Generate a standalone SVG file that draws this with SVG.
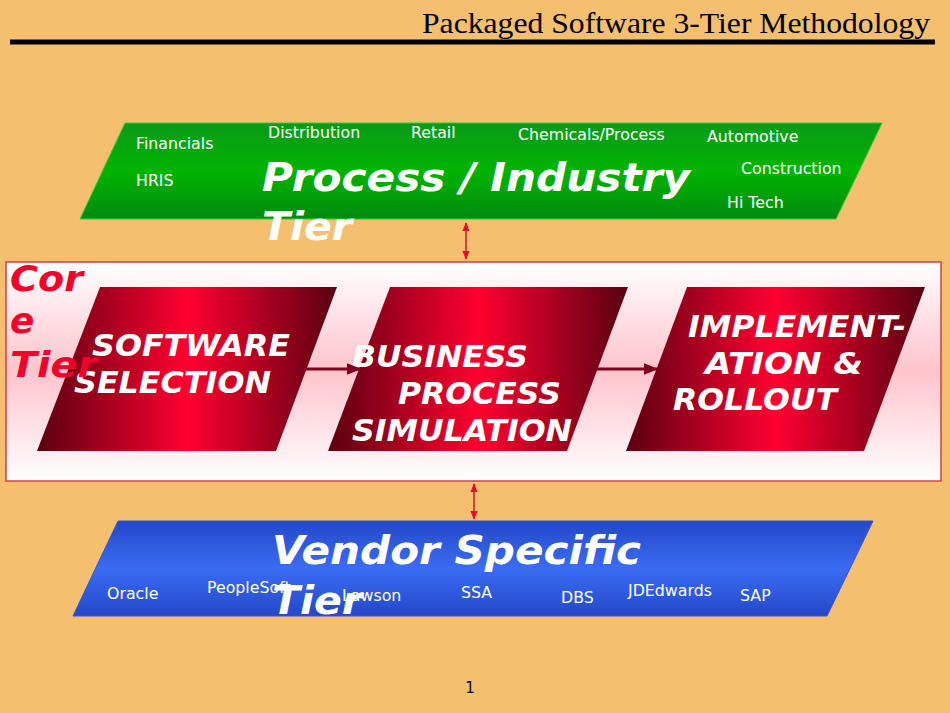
<svg xmlns="http://www.w3.org/2000/svg" width="950" height="713" viewBox="0 0 950 713">
<defs>
<linearGradient id="gg" x1="0" y1="0" x2="0" y2="1"><stop offset="0" stop-color="#0a9a1a"/><stop offset="0.5" stop-color="#00b400"/><stop offset="1" stop-color="#008a10"/></linearGradient>
<linearGradient id="pk" x1="0" y1="0" x2="0" y2="1"><stop offset="0" stop-color="#fff"/><stop offset="0.5" stop-color="#ffc4cc"/><stop offset="1" stop-color="#fff"/></linearGradient>
<linearGradient id="rd" x1="0" y1="0" x2="1" y2="0"><stop offset="0" stop-color="#5a0010"/><stop offset="0.5" stop-color="#ff0030"/><stop offset="1" stop-color="#5a0010"/></linearGradient>
<linearGradient id="bl" x1="0" y1="0" x2="0" y2="1"><stop offset="0" stop-color="#2448c8"/><stop offset="0.5" stop-color="#3a6cf4"/><stop offset="1" stop-color="#2448c8"/></linearGradient>
<marker id="ah" viewBox="0 0 10 10" refX="9" refY="5" markerWidth="6" markerHeight="6" orient="auto-start-reverse"><path d="M0,1 L10,5 L0,9 z" fill="#e0102a"/></marker>
<marker id="ad" viewBox="0 0 10 10" refX="9" refY="5" markerWidth="5" markerHeight="5" orient="auto"><path d="M0,1 L10,5 L0,9 z" fill="#800020"/></marker>
</defs>
<style>
.s{font-family:"DejaVu Sans",sans-serif;font-size:15.8px;fill:#fff}
.b{font-family:"DejaVu Sans",sans-serif;font-weight:bold;font-style:oblique;fill:#fff}
.bb{font-size:39px}.bs{font-size:31px}
.c{font-family:"DejaVu Sans",sans-serif;font-weight:bold;font-style:oblique;font-size:36px;fill:#f0002a}
</style>
<rect width="950" height="713" fill="#f4bf6e"/>
<text x="422" y="33" textLength="508" lengthAdjust="spacingAndGlyphs" font-family="Liberation Serif,serif" font-size="30" fill="#000">Packaged Software 3-Tier Methodology</text>
<line x1="10" y1="42" x2="935" y2="42" stroke="#000" stroke-width="5"/>
<g id="process-tier">
<polygon points="125,123 882,123 836,219 80,219" fill="url(#gg)" stroke="#33cc33"/>
<text class="s" x="136" y="149">Financials</text><text class="s" x="268" y="138">Distribution</text><text class="s" x="411" y="138">Retail</text><text class="s" x="518" y="140">Chemicals/Process</text><text class="s" x="707" y="142">Automotive</text><text class="s" x="136" y="186">HRIS</text><text class="s" x="741" y="174">Construction</text><text class="s" x="727" y="208">Hi Tech</text>
<text class="b bb" x="262" y="191" textLength="428" lengthAdjust="spacingAndGlyphs">Process / Industry</text><text class="b bb" x="262" y="240" textLength="90" lengthAdjust="spacingAndGlyphs">Tier</text>
</g>
<rect id="core-box" x="6" y="262" width="935" height="219" fill="url(#pk)" stroke="#d04040" stroke-width="1.5"/>
<g id="software-selection"><polygon points="100,287 337,287 276,451 37,451" fill="url(#rd)"/><text class="b bs" x="92" y="356" textLength="198" lengthAdjust="spacingAndGlyphs">SOFTWARE</text><text class="b bs" x="74" y="393" textLength="197" lengthAdjust="spacingAndGlyphs">SELECTION</text></g>
<g id="business-process"><polygon points="390,287 628,287 567,451 328,451" fill="url(#rd)"/><text class="b bs" x="352" y="367" textLength="176" lengthAdjust="spacingAndGlyphs">BUSINESS</text><text class="b bs" x="398" y="404" textLength="163" lengthAdjust="spacingAndGlyphs">PROCESS</text><text class="b bs" x="352" y="441" textLength="220" lengthAdjust="spacingAndGlyphs">SIMULATION</text></g>
<g id="implementation"><polygon points="687,287 925,287 864,451 626,451" fill="url(#rd)"/><text class="b bs" x="688" y="337" textLength="218" lengthAdjust="spacingAndGlyphs">IMPLEMENT-</text><text class="b bs" x="705" y="374" textLength="158" lengthAdjust="spacingAndGlyphs">ATION  &amp;</text><text class="b bs" x="673" y="410" textLength="164" lengthAdjust="spacingAndGlyphs">ROLLOUT</text></g>
<g id="core-tier">
<text class="c" x="10" y="291" textLength="73" lengthAdjust="spacingAndGlyphs">Cor</text>
<text class="c" x="10" y="333">e</text>
<text class="c" x="10" y="377" textLength="87" lengthAdjust="spacingAndGlyphs">Tier</text>
</g>
<g id="vendor-tier">
<polygon points="118,521 873,521 827,616 73,616" fill="url(#bl)" stroke="#3355dd"/>
<text class="b bb" x="272" y="564" textLength="369" lengthAdjust="spacingAndGlyphs">Vendor Specific</text><text class="b bb" x="272" y="614" textLength="90" lengthAdjust="spacingAndGlyphs">Tier</text>
<text class="s" x="107" y="599">Oracle</text><text class="s" x="207" y="593">PeopleSoft</text><text class="s" x="342" y="601">Lawson</text><text class="s" x="461" y="598">SSA</text><text class="s" x="561" y="603">DBS</text><text class="s" x="628" y="596">JDEdwards</text><text class="s" x="740" y="601">SAP</text>
</g>
<g id="connectors">
<line x1="466" y1="223" x2="466" y2="259" stroke="#e0102a" stroke-width="1.5" marker-start="url(#ah)" marker-end="url(#ah)"/>
<line x1="474" y1="484" x2="474" y2="519" stroke="#e0102a" stroke-width="1.5" marker-start="url(#ah)" marker-end="url(#ah)"/>
<line x1="293" y1="369" x2="360" y2="369" stroke="#800020" stroke-width="3" marker-end="url(#ad)"/>
<line x1="584" y1="369" x2="657" y2="369" stroke="#800020" stroke-width="3" marker-end="url(#ad)"/>
</g>
<text x="470" y="693" text-anchor="middle" font-family="DejaVu Sans,sans-serif" font-size="15" fill="#000">1</text>
</svg>
